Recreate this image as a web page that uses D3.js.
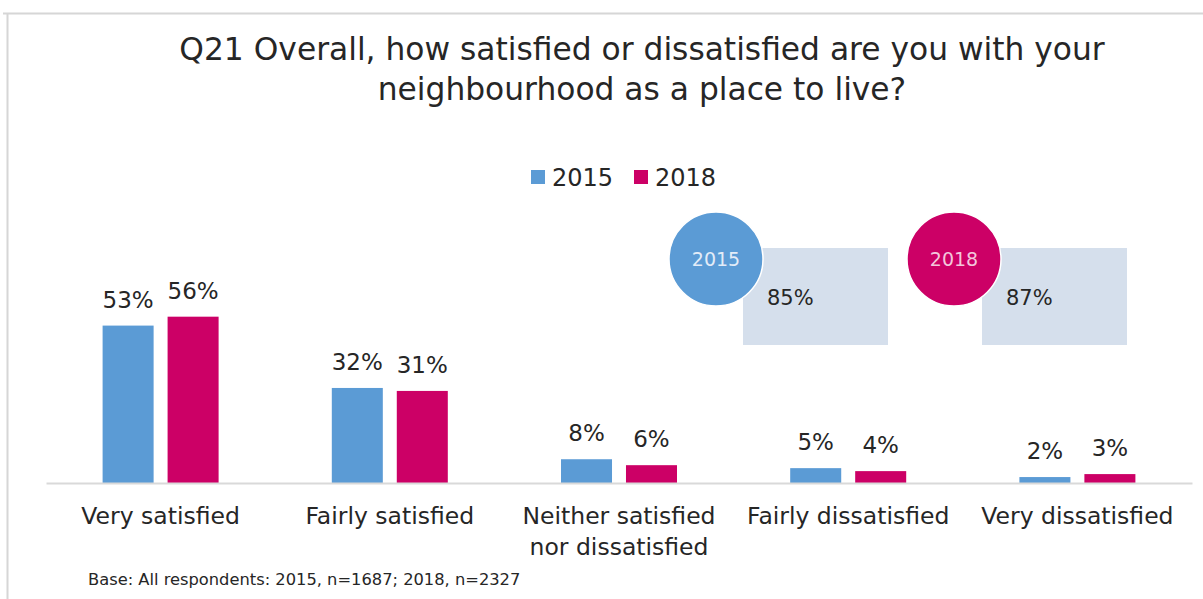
<!DOCTYPE html>
<html>
<head>
<meta charset="utf-8">
<script src="https://cdn.jsdelivr.net/npm/d3@7"></script>
<style>
  html, body { margin: 0; padding: 0; background: #ffffff; }
  svg { display: block; }
  text { font-family: "DejaVu Sans", sans-serif; fill: #262626; }
</style>
</head>
<body>
<svg id="chart" width="1203" height="599"></svg>
<script>
// ---- data ----
const titleLines = ["Q21 Overall, how satisfied or dissatisfied are you with your", "neighbourhood as a place to live?"];
const categories = ["Very satisfied", "Fairly satisfied", "Neither satisfied\nnor dissatisfied", "Fairly dissatisfied", "Very dissatisfied"];
const seriesNames = ["2015", "2018"];
const values2015 = [53, 32, 8, 5, 2];
const values2018 = [56, 31, 6, 4, 3];
const totalLabels = ["85%", "87%"];
const footnote = "Base: All respondents: 2015, n=1687; 2018, n=2327";
const colors = ["#5B9BD5", "#CC0066"];

const svg = d3.select("#chart");
const W = 1203, H = 599;

// frame
svg.append("line").attr("x1", 3).attr("x2", W).attr("y1", 13.5).attr("y2", 13.5)
  .attr("stroke", "#d6d6d6").attr("stroke-width", 2);
svg.append("line").attr("x1", 7.5).attr("x2", 7.5).attr("y1", 13).attr("y2", H)
  .attr("stroke", "#d6d6d6").attr("stroke-width", 2);

// title
svg.append("text").attr("x", 642).attr("text-anchor", "middle").attr("font-size", 31.3)
  .selectAll("tspan").data(titleLines).join("tspan")
  .attr("x", 642).attr("y", (d, i) => 60 + i * 40).text(d => d);

// scales
const x0 = d3.scaleBand().domain(categories).range([46, 1192]).padding(0);
const groupW = 116;
const x1 = d3.scaleBand().domain(seriesNames)
  .range([(x0.bandwidth() - groupW) / 2, (x0.bandwidth() + groupW) / 2])
  .paddingInner(0.215).paddingOuter(0);
const y = d3.scaleLinear().domain([0, 100]).range([483, 186]);
const color = d3.scaleOrdinal().domain(seriesNames).range(colors);

const rows = categories.map((c, i) => ({ cat: c, vals: [
  { s: "2015", v: values2015[i] }, { s: "2018", v: values2018[i] }] }));

const g = svg.append("g");
const groups = g.selectAll("g.grp").data(rows).join("g")
  .attr("transform", d => `translate(${x0(d.cat)},0)`);
groups.selectAll("rect").data(d => d.vals).join("rect")
  .attr("x", d => x1(d.s)).attr("width", x1.bandwidth())
  .attr("y", d => y(d.v)).attr("height", d => y(0) - y(d.v))
  .attr("fill", d => color(d.s));
groups.selectAll("text.val").data(d => d.vals).join("text")
  .attr("class", "val")
  .attr("x", d => x1(d.s) + x1.bandwidth() / 2)
  .attr("y", d => y(d.v) - 18)
  .attr("text-anchor", "middle").attr("font-size", 23)
  .text(d => d.v + "%");

// baseline axis
const xAxis = d3.axisBottom(x0).tickSize(0).tickFormat("");
const ax = svg.append("g").attr("transform", `translate(0,${y(0)})`).call(xAxis);
ax.select(".domain").attr("stroke", "#d9d9d9").attr("stroke-width", 2);

// category labels
svg.append("g").selectAll("text").data(categories).join("text")
  .attr("text-anchor", "middle").attr("font-size", 23.5)
  .each(function (d) {
    const lines = d.split("\n");
    d3.select(this).selectAll("tspan").data(lines).join("tspan")
      .attr("x", x0(d) + x0.bandwidth() / 2)
      .attr("y", (l, i) => 524 + i * 31)
      .text(l => l);
  });

// legend
const legend = svg.append("g");
const legX = [531, 634];
seriesNames.forEach((s, i) => {
  legend.append("rect").attr("x", legX[i]).attr("y", 170).attr("width", 14).attr("height", 14)
    .attr("fill", color(s));
  legend.append("text").attr("x", legX[i] + 21).attr("y", 186).attr("font-size", 24).text(s);
});

// total callouts
const callX = [716, 954];
const boxX = [743, 982];
seriesNames.forEach((s, i) => {
  svg.append("rect").attr("x", boxX[i]).attr("y", 248).attr("width", 145).attr("height", 97)
    .attr("fill", "#D5DFEC");
  svg.append("circle").attr("cx", callX[i]).attr("cy", 259).attr("r", 47)
    .attr("fill", color(s)).attr("stroke", "#ffffff").attr("stroke-width", 1.5);
  svg.append("text").attr("x", callX[i]).attr("y", 266).attr("text-anchor", "middle")
    .attr("font-size", 19).style("fill", i === 0 ? "#e3ecf8" : "#f3c6dc").text(s);
  svg.append("text").attr("x", boxX[i] + 24).attr("y", 305).attr("font-size", 21)
    .text(totalLabels[i]);
});

// footnote
svg.append("text").attr("x", 88).attr("y", 585).attr("font-size", 16.3).text(footnote);
</script>
</body>
</html>
